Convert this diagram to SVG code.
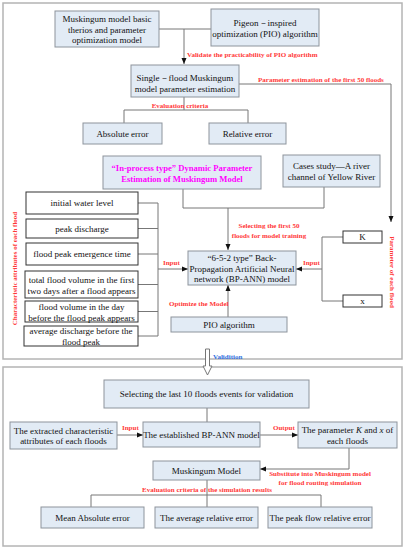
<svg xmlns="http://www.w3.org/2000/svg" width="405" height="550" viewBox="0 0 405 550">
<defs>
<marker id="ah" markerWidth="6" markerHeight="6" refX="6" refY="3" orient="auto" markerUnits="userSpaceOnUse">
<path d="M0,0.5 L6,3 L0,5.5 Z" fill="#111"/>
</marker>
<style>
.frame{fill:none;stroke:#b4b4b4;stroke-width:1.5}
.b{fill:#e2ebf5;stroke:#8d949c;stroke-width:1}
.w{fill:#fff;stroke:#333;stroke-width:1}
.t{font-family:"Liberation Serif",serif;font-size:9px;fill:#111;text-anchor:middle}
.r{font-family:"Liberation Serif",serif;font-size:7px;font-weight:bold;fill:#ff3838}
.m{font-family:"Liberation Serif",serif;font-size:8.6px;font-weight:bold;fill:#ff00ff;text-anchor:middle}
.c{fill:none;stroke:#777;stroke-width:1}
.ca{fill:none;stroke:#777;stroke-width:1;marker-end:url(#ah)}
</style>
</defs>
<rect class="frame" x="3" y="3" width="399" height="356"/>
<rect class="frame" x="3" y="367" width="399" height="179"/>

<g id="connectors">
<path class="c" d="M159,29 H211"/>
<path class="ca" d="M184,29 V64"/>
<path class="ca" d="M239,84 H391 V222"/>
<path class="c" d="M184,97 V110 M124,123 V110 H248 V123"/>
<path class="c" d="M183,189 V208 H324 V187"/>
<path class="ca" d="M228,208 V250"/>
<path class="c" d="M138,203 H158 M138,228.5 H158 M138,254 H158 M138,284.5 H158 M138,311.5 H158 M138,336 H158 M158,203 V336"/>
<path class="ca" d="M158,269 H188"/>
<path class="c" d="M343,237 H322 V301 H343"/>
<path class="ca" d="M322,269 H296"/>
<path class="ca" d="M228,317 V285"/>
<polygon points="205.5,349 209.5,349 209.5,366 212,366 207.5,375 203,366 205.5,366" fill="#fff" stroke="#777" stroke-width="1"/>
<path class="c" d="M207,408 V422"/>
<path class="ca" d="M117,435 H143"/>
<path class="ca" d="M260,435 H298"/>
<path class="ca" d="M349,448 V469 H260"/>
<path class="c" d="M207,480 V507 M91,507 V495 H321 V507"/>
</g>

<g id="labels">
<text class="r" x="187" y="57">Validate the practicability of PIO algorithm</text>
<text class="r" x="258" y="82">Parameter estimation of the first 50 floods</text>
<text class="r" x="180" y="108" text-anchor="middle">Evaluation criteria</text>
<text class="r" x="269" y="228" text-anchor="middle">Selecting the first 50</text>
<text class="r" x="269" y="237.5" text-anchor="middle">floods for model training</text>
<text class="r" x="163" y="265">Input</text>
<text class="r" x="303" y="265">Input</text>
<text class="r" x="169" y="306">Optimize the Model</text>
<text class="r" transform="translate(16.5,268.5) rotate(-90)" text-anchor="middle">Characteristic attributes of each flood</text>
<text class="r" transform="translate(389.5,272) rotate(90)" text-anchor="middle">Parameter of each flood</text>
<text x="213" y="359" font-family="Liberation Serif,serif" font-size="7px" font-weight="bold" fill="#2f6fe0">Validition</text>
<text class="r" x="122" y="430">Input</text>
<text class="r" x="273" y="430">Output</text>
<text class="r" x="320" y="476" text-anchor="middle">Substitute into Muskingum model</text>
<text class="r" x="320" y="485" text-anchor="middle">for flood routing simulation</text>
<text class="r" x="207" y="492" text-anchor="middle">Evaluation criteria of the simulation results</text>
</g>

<g id="n-muskingum-basic"><rect class="b" x="55" y="11" width="104" height="36"/>
<text class="t" x="107" y="22">Muskingum model basic</text>
<text class="t" x="107" y="32.5">therios and parameter</text>
<text class="t" x="107" y="43">optimization model</text></g>

<g id="n-pigeon"><rect class="b" x="211" y="9" width="108" height="37"/>
<text class="t" x="265" y="26">Pigeon－inspired</text>
<text class="t" x="265" y="37">optimization (PIO) algorithm</text></g>

<g id="n-single"><rect class="b" x="131" y="65" width="108" height="32"/>
<text class="t" x="185" y="81">Single－flood Muskingum</text>
<text class="t" x="185" y="92">model parameter estimation</text></g>

<g id="n-abs"><rect class="b" x="83" y="123" width="79" height="21"/>
<text class="t" x="122.5" y="137">Absolute error</text></g>

<g id="n-rel"><rect class="b" x="209" y="123" width="77" height="21"/>
<text class="t" x="247.5" y="137">Relative error</text></g>

<g id="n-inprocess"><rect class="b" x="103" y="156" width="158" height="33"/>
<text class="m" x="182" y="171">“In-process type” Dynamic Parameter</text>
<text class="m" x="182" y="181.5">Estimation of Muskingum Model</text></g>

<g id="n-cases"><rect class="b" x="283" y="155" width="97" height="32"/>
<text class="t" x="331.5" y="169">Cases study—A river</text>
<text class="t" x="331.5" y="179.5">channel of Yellow River</text></g>

<g id="n-a1"><rect class="w" x="26" y="192" width="112" height="22"/>
<text class="t" x="82" y="206">initial water level</text></g>
<g id="n-a2"><rect class="w" x="26" y="219" width="112" height="19"/>
<text class="t" x="82" y="231.5">peak discharge</text></g>
<g id="n-a3"><rect class="w" x="26" y="243" width="112" height="22"/>
<text class="t" x="82" y="257">flood peak emergence time</text></g>
<g id="n-a4"><rect class="w" x="25" y="271" width="113" height="27"/>
<text class="t" x="81.5" y="283">total flood volume in the first</text>
<text class="t" x="81.5" y="293.5">two days after a flood appears</text></g>
<g id="n-a5"><rect class="w" x="25" y="301" width="113" height="21"/>
<text class="t" x="81.5" y="310">flood volume in the day</text>
<text class="t" x="81.5" y="320.5">before the flood peak appears</text></g>
<g id="n-a6"><rect class="w" x="24" y="326" width="114" height="20"/>
<text class="t" x="81" y="334">average discharge before the</text>
<text class="t" x="81" y="345">flood peak</text></g>

<g id="n-bpann"><rect class="b" x="188" y="251" width="108" height="34"/>
<text class="t" x="242" y="261">“6-5-2 type” Back-</text>
<text class="t" x="242" y="271.5">Propagation Artificial Neural</text>
<text class="t" x="242" y="282">network (BP-ANN) model</text></g>

<g id="n-k"><rect class="w" x="343" y="231" width="39" height="12"/>
<text class="t" x="362.5" y="240">K</text></g>
<g id="n-x"><rect class="w" x="343" y="295" width="39" height="12"/>
<text class="t" x="362.5" y="303.5">x</text></g>

<g id="n-pio"><rect class="b" x="171" y="317" width="116" height="15"/>
<text class="t" x="229" y="327.5">PIO algorithm</text></g>

<g id="n-select10"><rect class="b" x="104" y="380" width="205" height="28"/>
<text class="t" x="206.5" y="397">Selecting the last 10 floods events for validation</text></g>

<g id="n-extracted"><rect class="b" x="10" y="422" width="107" height="27"/>
<text class="t" x="63.5" y="433.5">The extracted characteristic</text>
<text class="t" x="63.5" y="444">attributes of each floods</text></g>

<g id="n-established"><rect class="b" x="143" y="422" width="117" height="25"/>
<text class="t" x="201.5" y="437.5">The established BP-ANN model</text></g>

<g id="n-param"><rect class="b" x="298" y="422" width="99" height="26"/>
<text class="t" x="347.5" y="432.5">The parameter <tspan font-style="italic">K</tspan> and <tspan font-style="italic">x</tspan> of</text>
<text class="t" x="347.5" y="443.5">each floods</text></g>

<g id="n-musk"><rect class="b" x="153" y="461" width="107" height="19"/>
<text class="t" x="206.5" y="473.5">Muskingum Model</text></g>

<g id="n-mae"><rect class="b" x="41" y="507" width="103" height="21"/>
<text class="t" x="92.5" y="520.5">Mean Absolute error</text></g>
<g id="n-are"><rect class="b" x="155" y="507" width="103" height="21"/>
<text class="t" x="206.5" y="520.5">The average relative error</text></g>
<g id="n-pfre"><rect class="b" x="268" y="507" width="104" height="21"/>
<text class="t" x="320" y="520.5">The peak flow relative error</text></g>
</svg>
